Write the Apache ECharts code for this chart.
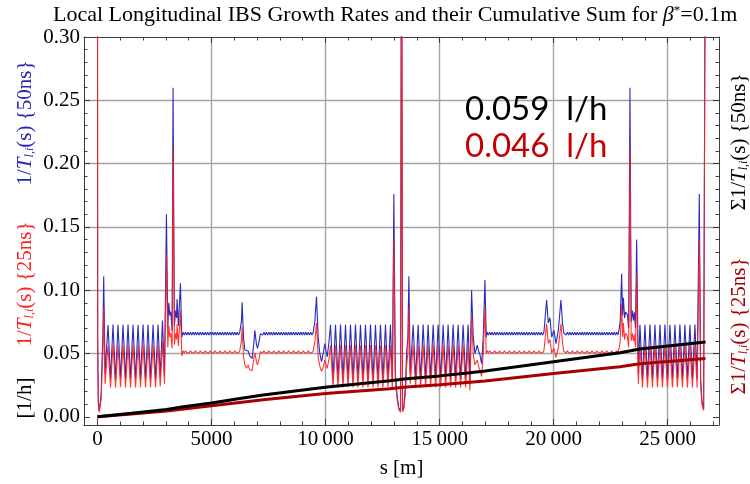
<!DOCTYPE html>
<html>
<head>
<meta charset="utf-8">
<script src="https://cdn.jsdelivr.net/npm/echarts@6/dist/echarts.min.js"></script>
<style>
  html, body { margin: 0; padding: 0; background: #fff; }
  #chart { width: 750px; height: 484px; }
</style>
</head>
<body>
<div id="chart"></div>
<script>
// Position along the ring s [m] for the local growth-rate samples
const sPos = [
  // IR1 (start)
  0, 12, 40, 80, 125, 165, 205, 240, 276, 335,
  // arc 1-2
  465, 575, 684, 794, 904, 1013, 1123, 1232, 1342, 1452, 1561, 1671,
  1781, 1890, 2000, 2110, 2219, 2329, 2439, 2548, 2658, 2755, 2851, 2940,
  // IR2
  3026, 3085, 3130, 3175, 3216, 3275, 3316, 3375, 3433, 3470, 3492, 3550, 3640, 3700,
  // arc 2-3
  3755, 3809, 3863, 3917, 3971, 4025, 4079, 4133, 4187, 4241, 4295, 4349,
  4403, 4457, 4511, 4565, 4619, 4673, 4727, 4781, 4835, 4889, 4943, 4997,
  5051, 5105, 5159, 5213, 5267, 5321, 5375, 5429, 5483, 5537, 5591, 5645,
  5699, 5753, 5807, 5861, 5915, 5969, 6023, 6077, 6131, 6185, 6239,
  // IR3
  6316, 6344, 6404, 6462, 6535, 6608, 6681, 6783, 6857, 6900, 6974, 7018, 7091, 7145,
  // arc 3-4
  7193, 7247, 7301, 7355, 7409, 7463, 7517, 7571, 7625, 7679, 7733, 7787,
  7841, 7895, 7949, 8003, 8057, 8111, 8165, 8219, 8273, 8327, 8381, 8435,
  8489, 8543, 8597, 8651, 8705, 8759, 8813, 8867, 8921, 8975, 9029, 9083,
  9137, 9191, 9245, 9299, 9353, 9407, 9461,
  // IR4
  9530, 9605, 9678, 9750, 9825, 9898, 9970, 10020, 10073, 10146,
  // arc 4-5
  10219, 10329, 10438, 10548, 10657, 10767, 10876, 10986, 11095, 11205, 11314, 11424,
  11533, 11643, 11752, 11862, 11971, 12081, 12190, 12300, 12409, 12519, 12628, 12738,
  12847, 12930,
  // IR5
  12996, 13060, 13143, 13216, 13289, 13333, 13377, 13436, 13509, 13553, 13611, 13654, 13713,
  // arc 5-6
  13842, 13951, 14061, 14170, 14280, 14389, 14499, 14608, 14718, 14827, 14937, 15046,
  15156, 15265, 15375, 15484, 15594, 15703, 15813, 15922, 16032, 16141, 16251, 16330,
  // IR6
  16404, 16477, 16550, 16600, 16652, 16710, 16770, 16843, 16916, 16988, 17047,
  // arc 6-7
  17090, 17144, 17198, 17252, 17306, 17360, 17414, 17468, 17522, 17576, 17630, 17684,
  17738, 17792, 17846, 17900, 17954, 18008, 18062, 18116, 18170, 18224, 18278, 18332,
  18386, 18440, 18494, 18548, 18602, 18656, 18710, 18764, 18818, 18872, 18926, 18980,
  19034, 19088, 19142, 19196, 19250, 19304, 19358, 19412, 19466, 19520, 19574,
  // IR7
  19630, 19693, 19766, 19840, 19913, 20015, 20102, 20205, 20320, 20393, 20450,
  // arc 7-8
  20496, 20550, 20604, 20658, 20712, 20766, 20820, 20874, 20928, 20982, 21036, 21090,
  21144, 21198, 21252, 21306, 21360, 21414, 21468, 21522, 21576, 21630, 21684, 21738,
  21792, 21846, 21900, 21954, 22008, 22062, 22116, 22170, 22224, 22278, 22332, 22386,
  22440, 22494, 22548, 22602, 22656, 22710, 22764, 22818,
  // IR8
  22880, 22920, 22982, 23025, 23060, 23110, 23157, 23230, 23290, 23346, 23400, 23450,
  23500, 23537, 23590, 23640, 23713,
  // arc 8-1
  23785, 23895, 24004, 24114, 24223, 24333, 24442, 24552, 24661, 24771, 24880, 24990,
  25099, 25209, 25318, 25428, 25537, 25647, 25756, 25866, 25975, 26085, 26194, 26290,
  // IR1 (end)
  26386, 26445, 26503, 26576, 26630, 26659
];

// Local longitudinal IBS growth rate 1/T_l,i(s) [1/h], 50 ns beam
const rate50 = [
  0.45, 0.060, 0.012, 0.0045, 0.006, 0.018, 0.045, 0.065, 0.111, 0.034,
  0.0725, 0.030, 0.0728, 0.0298, 0.0727, 0.030, 0.0726, 0.0302, 0.0728, 0.030, 0.0727, 0.0299,
  0.0726, 0.030, 0.0728, 0.0301, 0.0727, 0.030, 0.0726, 0.0299, 0.0728, 0.031, 0.076, 0.033,
  0.160, 0.070, 0.090, 0.080, 0.083, 0.068, 0.260, 0.072, 0.084, 0.078, 0.093, 0.072, 0.1055, 0.063,
  0.0667, 0.0645, 0.0668, 0.0646, 0.0667, 0.0645, 0.0668, 0.0646, 0.0667, 0.0645, 0.0668, 0.0646,
  0.0667, 0.0645, 0.0668, 0.0646, 0.0667, 0.0645, 0.0668, 0.0646, 0.0667, 0.0645, 0.0668, 0.0646,
  0.0667, 0.0645, 0.0668, 0.0646, 0.0667, 0.0645, 0.0668, 0.0646, 0.0667, 0.0645, 0.0668, 0.0646,
  0.0667, 0.0645, 0.0668, 0.0646, 0.0667, 0.0645, 0.0668, 0.0646, 0.0667, 0.0645, 0.0668,
  0.076, 0.0904, 0.063, 0.0527, 0.0513, 0.052, 0.048, 0.0461, 0.058, 0.0683, 0.057, 0.054, 0.060, 0.0656,
  0.0667, 0.0645, 0.0668, 0.0646, 0.0667, 0.0645, 0.0668, 0.0646, 0.0667, 0.0645, 0.0668, 0.0646,
  0.0667, 0.0645, 0.0668, 0.0646, 0.0667, 0.0645, 0.0668, 0.0646, 0.0667, 0.0645, 0.0668, 0.0646,
  0.0667, 0.0645, 0.0668, 0.0646, 0.0667, 0.0645, 0.0668, 0.0646, 0.0667, 0.0645, 0.0668, 0.0646,
  0.0667, 0.0645, 0.0668, 0.0646, 0.0667, 0.0645, 0.0668,
  0.075, 0.0948, 0.063, 0.050, 0.0435, 0.050, 0.0578, 0.052, 0.0474, 0.058,
  0.0727, 0.030, 0.0726, 0.0299, 0.0728, 0.030, 0.0727, 0.0301, 0.0726, 0.030, 0.0728, 0.0299,
  0.0727, 0.030, 0.0726, 0.0301, 0.0728, 0.030, 0.0727, 0.0299, 0.0726, 0.030, 0.0728, 0.0301,
  0.0727, 0.028,
  0.176, 0.035, 0.016, 0.007, 0.0045, 0.45, 0.005, 0.008, 0.026, 0.050, 0.063, 0.111, 0.034,
  0.0727, 0.030, 0.0726, 0.0299, 0.0728, 0.030, 0.0727, 0.0301, 0.0726, 0.030, 0.0728, 0.0299,
  0.0727, 0.030, 0.0726, 0.0301, 0.0728, 0.030, 0.0727, 0.0299, 0.0726, 0.030, 0.0728, 0.028,
  0.100, 0.063, 0.050, 0.053, 0.0565, 0.052, 0.049, 0.042, 0.063, 0.108, 0.063,
  0.0667, 0.0645, 0.0668, 0.0646, 0.0667, 0.0645, 0.0668, 0.0646, 0.0667, 0.0645, 0.0668, 0.0646,
  0.0667, 0.0645, 0.0668, 0.0646, 0.0667, 0.0645, 0.0668, 0.0646, 0.0667, 0.0645, 0.0668, 0.0646,
  0.0667, 0.0645, 0.0668, 0.0646, 0.0667, 0.0645, 0.0668, 0.0646, 0.0667, 0.0645, 0.0668, 0.0646,
  0.0667, 0.0645, 0.0668, 0.0646, 0.0667, 0.0645, 0.0668, 0.0646, 0.0667, 0.0645, 0.0668,
  0.068, 0.0922, 0.0743, 0.0782, 0.063, 0.0683, 0.0578, 0.068, 0.0922, 0.0734, 0.066,
  0.0667, 0.0645, 0.0668, 0.0646, 0.0667, 0.0645, 0.0668, 0.0646, 0.0667, 0.0645, 0.0668, 0.0646,
  0.0667, 0.0645, 0.0668, 0.0646, 0.0667, 0.0645, 0.0668, 0.0646, 0.0667, 0.0645, 0.0668, 0.0646,
  0.0667, 0.0645, 0.0668, 0.0646, 0.0667, 0.0645, 0.0668, 0.0646, 0.0667, 0.0645, 0.0668, 0.0646,
  0.0667, 0.0645, 0.0668, 0.0646, 0.0667, 0.0645, 0.0668, 0.0646,
  0.070, 0.076, 0.113, 0.080, 0.094, 0.078, 0.0826, 0.081, 0.070, 0.260, 0.075, 0.0839,
  0.076, 0.0826, 0.070, 0.140, 0.034,
  0.0727, 0.030, 0.0726, 0.0299, 0.0728, 0.030, 0.0727, 0.0301, 0.0726, 0.030, 0.0728, 0.0299,
  0.0727, 0.030, 0.0726, 0.0301, 0.0728, 0.030, 0.0727, 0.0299, 0.0726, 0.030, 0.0728, 0.030,
  0.176, 0.030, 0.012, 0.006, 0.0045, 0.45
];

// Local longitudinal IBS growth rate 1/T_l,i(s) [1/h], 25 ns beam
const rate25 = [
  0.45, 0.048, 0.010, 0.0036, 0.005, 0.014, 0.036, 0.051, 0.0865, 0.026,
  0.0563, 0.0232, 0.0566, 0.0230, 0.0565, 0.0233, 0.0564, 0.0232, 0.0566, 0.0231, 0.0565, 0.0232,
  0.0564, 0.0233, 0.0566, 0.0232, 0.0565, 0.0231, 0.0564, 0.0232, 0.0566, 0.024, 0.060, 0.026,
  0.129, 0.055, 0.072, 0.063, 0.066, 0.054, 0.2115, 0.057, 0.066, 0.061, 0.073, 0.056, 0.084, 0.048,
  0.0521, 0.0505, 0.0522, 0.0506, 0.0521, 0.0505, 0.0522, 0.0506, 0.0521, 0.0505, 0.0522, 0.0506,
  0.0521, 0.0505, 0.0522, 0.0506, 0.0521, 0.0505, 0.0522, 0.0506, 0.0521, 0.0505, 0.0522, 0.0506,
  0.0521, 0.0505, 0.0522, 0.0506, 0.0521, 0.0505, 0.0522, 0.0506, 0.0521, 0.0505, 0.0522, 0.0506,
  0.0521, 0.0505, 0.0522, 0.0506, 0.0521, 0.0505, 0.0522, 0.0506, 0.0521, 0.0505, 0.0522,
  0.060, 0.071, 0.048, 0.041, 0.0383, 0.041, 0.037, 0.0365, 0.046, 0.0505, 0.0435, 0.041, 0.046, 0.0513,
  0.0521, 0.0505, 0.0522, 0.0506, 0.0521, 0.0505, 0.0522, 0.0506, 0.0521, 0.0505, 0.0522, 0.0506,
  0.0521, 0.0505, 0.0522, 0.0506, 0.0521, 0.0505, 0.0522, 0.0506, 0.0521, 0.0505, 0.0522, 0.0506,
  0.0521, 0.0505, 0.0522, 0.0506, 0.0521, 0.0505, 0.0522, 0.0506, 0.0521, 0.0505, 0.0522, 0.0506,
  0.0521, 0.0505, 0.0522, 0.0506, 0.0521, 0.0505, 0.0522,
  0.059, 0.074, 0.047, 0.040, 0.036, 0.039, 0.045, 0.041, 0.0383, 0.045,
  0.0565, 0.0232, 0.0564, 0.0231, 0.0566, 0.0232, 0.0565, 0.0233, 0.0564, 0.0232, 0.0566, 0.0231,
  0.0565, 0.0232, 0.0564, 0.0233, 0.0566, 0.0232, 0.0565, 0.0231, 0.0564, 0.0232, 0.0566, 0.0233,
  0.0565, 0.022,
  0.141, 0.028, 0.013, 0.0055, 0.0036, 0.45, 0.004, 0.0065, 0.020, 0.040, 0.050, 0.0865, 0.026,
  0.0565, 0.0232, 0.0564, 0.0231, 0.0566, 0.0232, 0.0565, 0.0233, 0.0564, 0.0232, 0.0566, 0.0231,
  0.0565, 0.0232, 0.0564, 0.0233, 0.0566, 0.0232, 0.0565, 0.0231, 0.0564, 0.0232, 0.0566, 0.021,
  0.080, 0.049, 0.041, 0.043, 0.0448, 0.040, 0.037, 0.0318, 0.050, 0.0865, 0.050,
  0.0521, 0.0505, 0.0522, 0.0506, 0.0521, 0.0505, 0.0522, 0.0506, 0.0521, 0.0505, 0.0522, 0.0506,
  0.0521, 0.0505, 0.0522, 0.0506, 0.0521, 0.0505, 0.0522, 0.0506, 0.0521, 0.0505, 0.0522, 0.0506,
  0.0521, 0.0505, 0.0522, 0.0506, 0.0521, 0.0505, 0.0522, 0.0506, 0.0521, 0.0505, 0.0522, 0.0506,
  0.0521, 0.0505, 0.0522, 0.0506, 0.0521, 0.0505, 0.0522, 0.0506, 0.0521, 0.0505, 0.0522,
  0.053, 0.0735, 0.058, 0.061, 0.0505, 0.054, 0.047, 0.054, 0.0735, 0.058, 0.0515,
  0.0521, 0.0505, 0.0522, 0.0506, 0.0521, 0.0505, 0.0522, 0.0506, 0.0521, 0.0505, 0.0522, 0.0506,
  0.0521, 0.0505, 0.0522, 0.0506, 0.0521, 0.0505, 0.0522, 0.0506, 0.0521, 0.0505, 0.0522, 0.0506,
  0.0521, 0.0505, 0.0522, 0.0506, 0.0521, 0.0505, 0.0522, 0.0506, 0.0521, 0.0505, 0.0522, 0.0506,
  0.0521, 0.0505, 0.0522, 0.0506, 0.0521, 0.0505, 0.0522, 0.0506,
  0.055, 0.060, 0.089, 0.063, 0.074, 0.061, 0.066, 0.064, 0.055, 0.2115, 0.060, 0.066,
  0.060, 0.065, 0.055, 0.1125, 0.026,
  0.0565, 0.0232, 0.0564, 0.0231, 0.0566, 0.0232, 0.0565, 0.0233, 0.0564, 0.0232, 0.0566, 0.0231,
  0.0565, 0.0232, 0.0564, 0.0233, 0.0566, 0.0232, 0.0565, 0.0231, 0.0564, 0.0232, 0.0566, 0.023,
  0.141, 0.024, 0.010, 0.005, 0.0036, 0.45
];

// Cumulative sums Σ1/T_l,i(s) [1/h]
const cumS  = [0, 1500, 3026, 3700, 5000, 6241, 7265, 9895, 10300, 12820, 13553, 15000, 16329, 17000, 20000, 22908, 23785, 26659];
const cum50 = [0, 0.0028, 0.0058, 0.0077, 0.0109, 0.0145, 0.0172, 0.0232, 0.0240, 0.0284, 0.0300, 0.0323, 0.0348, 0.0362, 0.0435, 0.0505, 0.0535, 0.059];
const cum25 = [0, 0.0022, 0.0045, 0.0060, 0.0087, 0.0113, 0.0134, 0.0181, 0.0188, 0.0222, 0.0236, 0.0253, 0.0273, 0.0283, 0.0341, 0.0395, 0.0418, 0.046];

// Axis ticks
const xTicks = [0, 5000, 10000, 15000, 20000, 25000];
const xMinorTicks = [0, 1000, 2000, 3000, 4000, 5000, 6000, 7000, 8000, 9000, 10000, 11000, 12000, 13000,
  14000, 15000, 16000, 17000, 18000, 19000, 20000, 21000, 22000, 23000, 24000, 25000, 26000, 27000];
const xGrid = [5000, 10000, 15000, 20000, 25000];
const yTicks = [0, 0.05, 0.10, 0.15, 0.20, 0.25, 0.30];
const yMinorTicks = [0.01, 0.02, 0.03, 0.04, 0.06, 0.07, 0.08, 0.09, 0.11, 0.12, 0.13, 0.14, 0.16, 0.17, 0.18, 0.19,
  0.21, 0.22, 0.23, 0.24, 0.26, 0.27, 0.28, 0.29];
const yGrid = [0.05, 0.10, 0.15, 0.20, 0.25];

const S_MIN = -588, S_MAX = 27250;
const V_MIN = -0.0065, V_MAX = 0.30;

const serif = '"Liberation Serif", "Times New Roman", serif';
const frameColor = '#3c3c3c';
const gridColor = '#a4a4a4';

function zip(xs, ys) { return xs.map((x, i) => [x, ys[i]]); }

function axis(kind, position, opts) {
  const base = {
    type: 'value', position,
    min: kind === 'x' ? S_MIN : V_MIN,
    max: kind === 'x' ? S_MAX : V_MAX,
    axisLine: { show: false, onZero: false },
    axisTick: { show: false },
    axisLabel: { show: false },
    splitLine: { show: false },
    minorTick: { show: false },
    minorSplitLine: { show: false },
    silent: true
  };
  return Object.assign(base, opts);
}
const frameLine = { show: true, onZero: false, lineStyle: { color: frameColor, width: 1 } };
const majorTick = vals => ({ show: true, inside: true, length: 6, customValues: vals, lineStyle: { color: frameColor, width: 1 } });
const minorTick = vals => ({ show: true, inside: true, length: 3.5, customValues: vals, lineStyle: { color: frameColor, width: 1 } });

function groupThousands(v) {
  const t = String(v);
  return v >= 10000 ? t.slice(0, -3) + '\u2009' + t.slice(-3) : t;
}

// Rotated axis caption: prefix + 1/T_{l,i}(s) {tag}
function caption(x, y, prefix, color, tag) {
  const f = { fill: color, fontFamily: serif, fontSize: 21 };
  return {
    type: 'text', x, y, rotation: Math.PI / 2, silent: true, z: 10,
    style: {
      text: '{n|' + prefix + '1/}{i|T}{s|l,i}{n|(s) {' + tag + '}' + '}',
      fill: color, fontFamily: serif, fontSize: 21,
      align: 'center', verticalAlign: 'middle',
      rich: {
        n: f,
        i: Object.assign({}, f, { fontStyle: 'italic' }),
        s: { fill: color, fontFamily: serif, fontSize: 12, fontStyle: 'italic', verticalAlign: 'bottom' }
      }
    }
  };
}

const chart = echarts.init(document.getElementById('chart'), null, { renderer: 'canvas' });

chart.setOption({
  animation: false,
  backgroundColor: '#ffffff',
  title: {
    left: 53, top: 4, padding: 0,
    text: '{n|Local Longitudinal IBS Growth Rates and their Cumulative Sum for }{g|β}{p|*}{n|=0.1m}',
    textStyle: {
      fontWeight: 'normal',
      rich: {
        n: { fontFamily: serif, fontSize: 22, fontWeight: 'normal', color: '#000' },
        g: { fontFamily: serif, fontSize: 22, fontWeight: 'normal', fontStyle: 'italic', color: '#000' },
        p: { fontFamily: serif, fontSize: 13, fontWeight: 'normal', color: '#000', verticalAlign: 'top' }
      }
    }
  },
  grid: { left: 84, right: 31, top: 37, bottom: 55, containLabel: false },
  xAxis: [
    axis('x', 'bottom', {
      axisLine: frameLine,
      axisTick: majorTick(xTicks),
      axisLabel: { show: true, customValues: xTicks, formatter: groupThousands, fontFamily: serif, fontSize: 21, color: '#000', margin: 4 },
      name: 's [m]', nameLocation: 'middle', nameGap: 33,
      nameTextStyle: { fontFamily: serif, fontSize: 21, color: '#000' }
    }),
    axis('x', 'bottom', { axisTick: minorTick(xMinorTicks) }),
    axis('x', 'top', { axisLine: frameLine, axisTick: majorTick(xTicks) }),
    axis('x', 'top', { axisTick: minorTick(xMinorTicks) }),
    axis('x', 'bottom', {
      axisTick: { show: false, customValues: xGrid },
      splitLine: { show: true, lineStyle: { color: gridColor, width: 1.4 } }
    })
  ],
  yAxis: [
    axis('y', 'left', {
      axisLine: frameLine,
      axisTick: majorTick(yTicks),
      axisLabel: { show: true, customValues: yTicks, formatter: v => v.toFixed(2), fontFamily: serif, fontSize: 21, color: '#000', margin: 4 }
    }),
    axis('y', 'left', { axisTick: minorTick(yMinorTicks) }),
    axis('y', 'right', { axisLine: frameLine, axisTick: majorTick(yTicks) }),
    axis('y', 'right', { axisTick: minorTick(yMinorTicks) }),
    axis('y', 'left', {
      axisTick: { show: false, customValues: yGrid },
      splitLine: { show: true, lineStyle: { color: gridColor, width: 1.4 } }
    })
  ],
  series: [
    {
      name: '50ns', type: 'line', data: zip(sPos, rate50), showSymbol: false, clip: true,
      lineStyle: { color: '#2a2abc', width: 1.1 }, z: 2
    },
    {
      name: '25ns', type: 'line', data: zip(sPos, rate25), showSymbol: false, clip: true,
      lineStyle: { color: '#ff2020', width: 1.1, opacity: 0.9 }, z: 3
    },
    {
      name: 'Σ 25ns', type: 'line', data: zip(cumS, cum25), showSymbol: false, clip: true,
      lineStyle: { color: '#a80000', width: 3 }, z: 4
    },
    {
      name: 'Σ 50ns', type: 'line', data: zip(cumS, cum50), showSymbol: false, clip: true,
      lineStyle: { color: '#000000', width: 3 }, z: 5
    }
  ],
  graphic: [
    { type: 'text', x: 25, y: 398, rotation: Math.PI / 2, silent: true,
      style: { text: '[1/h]', fill: '#000', fontFamily: serif, fontSize: 21, align: 'center', verticalAlign: 'middle' } },
    caption(25, 284, '', '#ff2020', '25ns'),
    caption(25, 123, '', '#2626b4', '50ns'),
    caption(739, 326, 'Σ', '#a80000', '25ns'),
    caption(739, 142, 'Σ', '#000000', '50ns'),
    { type: 'text', x: 465, y: 109, silent: true, z: 10,
      style: { text: cum50[cum50.length - 1].toFixed(3) + '  l/h', fill: '#000', fontFamily: 'Lato', fontSize: 33, align: 'left', verticalAlign: 'middle' } },
    { type: 'text', x: 465, y: 146, silent: true, z: 10,
      style: { text: cum25[cum25.length - 1].toFixed(3) + '  l/h', fill: '#c40000', fontFamily: 'Lato', fontSize: 33, align: 'left', verticalAlign: 'middle' } }
  ]
});
</script>
</body>
</html>
